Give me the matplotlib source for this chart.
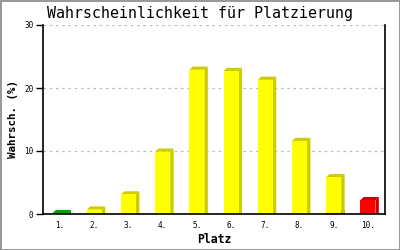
import numpy as np
import matplotlib.pyplot as plt
from matplotlib.patches import Polygon

places = ['1.', '2.', '3.', '4.', '5.', '6.', '7.', '8.', '9.', '10.']
green = [0.15, 0, 0, 0, 0, 0, 0, 0, 0, 0]
yellow = [0, 0.7, 3.1, 9.9, 22.9, 22.7, 21.3, 11.6, 5.7, 0]
red = [0, 0, 0, 0, 0, 0, 0, 0, 0.15, 2.2]
yticks = [0, 10, 20, 30]

series = [(green, '#00cc00', '#00a000'),
          (red, '#ff0000', '#cc0000'),
          (yellow, '#ffff00', '#cccc00')]

fig = plt.figure(figsize=(4, 2.5), dpi=100)
fig.patch.set_edgecolor('#999999')
fig.patch.set_linewidth(2)
ax = fig.add_axes([43 / 400, 36 / 250, 342 / 400, 189 / 250])

x = np.arange(1, len(places) + 1)
w = 0.44
dx, dy = 0.1, 0.5  # depth of the fake 3d

# grid first
for t in yticks[1:]:
    ax.axhline(t, color='#bbbbbb', linestyle=(0, (2, 3)), linewidth=0.9, zorder=0)

bottom = np.zeros(len(x))
for vals, front, side in series:
    vals = np.array(vals)
    for i in range(len(x)):
        if vals[i] <= 0:
            continue
        x0 = x[i] - w / 2
        y0 = bottom[i]
        y1 = y0 + vals[i]
        # side face
        ax.add_patch(Polygon([(x0 + w, y0), (x0 + w, y1), (x0 + w + dx, y1 + dy),
                              (x0 + w + dx, y0)], closed=True, facecolor=side,
                             edgecolor='none', zorder=2))
        # top face
        ax.add_patch(Polygon([(x0, y1), (x0 + w, y1), (x0 + w + dx, y1 + dy),
                              (x0 + dx, y1 + dy)], closed=True, facecolor=side,
                             edgecolor='none', zorder=2))
    ax.bar(x, vals, width=w, bottom=bottom, color=front, linewidth=0, zorder=3)
    bottom = bottom + vals

ax.set_xlim(0.5, 10.5)
ax.set_ylim(0, 30)
ax.set_xticks(x)
ax.set_xticklabels(places, fontsize=5.5, family='DejaVu Sans Mono')
ax.tick_params(axis='x', length=0, pad=5)
ax.set_yticks(yticks)
ax.set_yticklabels([str(t) for t in yticks], fontsize=5.5, family='DejaVu Sans Mono')
ax.tick_params(axis='y', length=5, width=1, pad=2)

ax.spines['top'].set_visible(False)
for s in ['left', 'right', 'bottom']:
    ax.spines[s].set_linewidth(1.2)
    ax.spines[s].set_zorder(4)

ax.set_xlabel('Platz', fontsize=8.3, family='DejaVu Sans Mono', fontweight='bold', labelpad=2)
ax.set_ylabel('Wahrsch. (%)', fontsize=7.8, family='DejaVu Sans Mono', fontweight='bold', labelpad=4)
fig.text(0.5, 0.945, 'Wahrscheinlichkeit für Platzierung', ha='center', va='center',
         fontsize=10.8, family='DejaVu Sans Mono')

fig.savefig('out.png', dpi=100, edgecolor=fig.get_edgecolor())
